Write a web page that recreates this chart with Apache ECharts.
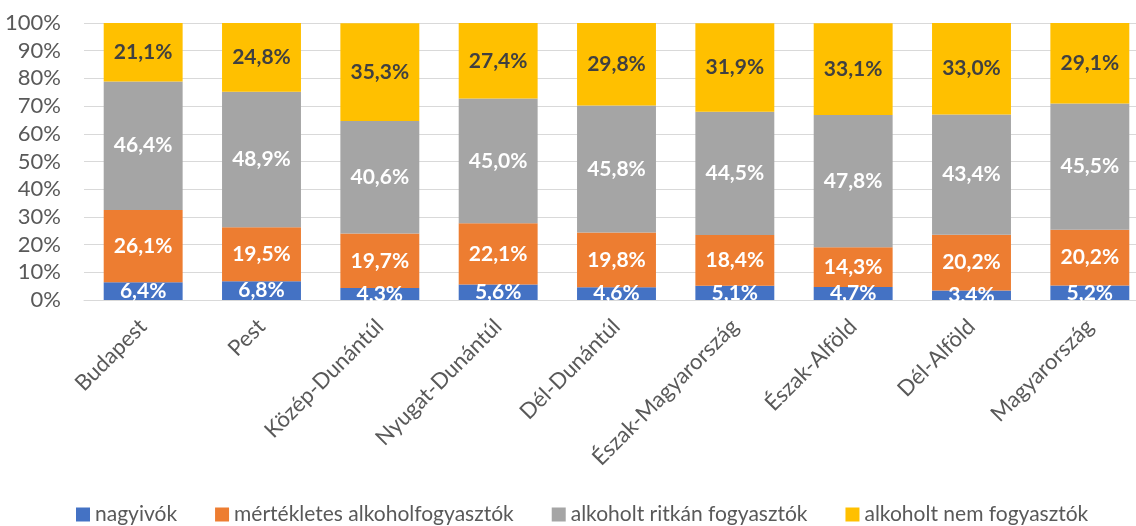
<!DOCTYPE html>
<html>
<head>
<meta charset="utf-8">
<script src="https://cdn.jsdelivr.net/npm/echarts@6/dist/echarts.min.js"></script>
<style>
  html, body { margin: 0; padding: 0; background: #fff; }
  #chart { width: 1136px; height: 526px; }
</style>
</head>
<body>
<div id="chart"></div>
<script>
// regions
var categories = ['Budapest', 'Pest', 'Közép-Dunántúl', 'Nyugat-Dunántúl', 'Dél-Dunántúl',
  'Észak-Magyarország', 'Észak-Alföld', 'Dél-Alföld', 'Magyarország'];

var nagyivok = [6.4, 6.8, 4.3, 5.6, 4.6, 5.1, 4.7, 3.4, 5.2];
var mertekletes = [26.1, 19.5, 19.7, 22.1, 19.8, 18.4, 14.3, 20.2, 20.2];
var ritkan = [46.4, 48.9, 40.6, 45.0, 45.8, 44.5, 47.8, 43.4, 45.5];
var nem = [21.1, 24.8, 35.3, 27.4, 29.8, 31.9, 33.1, 33.0, 29.1];

var font = 'Lato, "Open Sans", sans-serif';

function pct(v) {
  return v.toFixed(1).replace('.', ',') + '%';
}

function bar(name, data, color, labelColor) {
  return {
    name: name,
    type: 'bar',
    stack: 'total',
    barCategoryGap: '33.3%',
    data: data,
    itemStyle: { color: color },
    label: {
      show: true,
      position: 'inside',
      color: labelColor,
      fontFamily: font,
      fontWeight: 'bold',
      fontSize: 21,
      formatter: function (p) { return pct(p.value); }
    }
  };
}

var chart = echarts.init(document.getElementById('chart'));
var option = {
  animation: false,
  textStyle: { fontFamily: font },
  grid: { left: 84, top: 23, width: 1065, bottom: 226, containLabel: false, outerBoundsMode: 'none' },
  legend: {
    left: 71,
    top: 499,
    icon: 'rect',
    itemWidth: 14,
    itemHeight: 14,
    itemGap: 38,
    textStyle: { color: '#595959', fontSize: 21, fontFamily: font },
    data: ['nagyivók', 'mértékletes alkoholfogyasztók', 'alkoholt ritkán fogyasztók', 'alkoholt nem fogyasztók']
  },
  xAxis: {
    type: 'category',
    data: categories,
    axisLine: { lineStyle: { color: '#D9D9D9' } },
    axisTick: { show: false },
    axisLabel: {
      rotate: 45,
      interval: 0,
      margin: 23,
      color: '#595959',
      fontSize: 22,
      fontFamily: font
    }
  },
  yAxis: {
    type: 'value',
    min: 0,
    max: 100,
    interval: 10,
    axisLine: { show: false },
    axisTick: { show: false },
    splitLine: { lineStyle: { color: '#D9D9D9', width: 1 } },
    axisLabel: {
      color: '#595959',
      fontSize: 22,
      fontFamily: font,
      margin: 23,
      formatter: function (v) { return v + '%'; }
    }
  },
  series: [
    bar('nagyivók', nagyivok, '#4472C4', '#ffffff'),
    bar('mértékletes alkoholfogyasztók', mertekletes, '#ED7D31', '#ffffff'),
    bar('alkoholt ritkán fogyasztók', ritkan, '#A5A5A5', '#ffffff'),
    bar('alkoholt nem fogyasztók', nem, '#FFC000', '#404040')
  ]
};
chart.setOption(option);
</script>
</body>
</html>
